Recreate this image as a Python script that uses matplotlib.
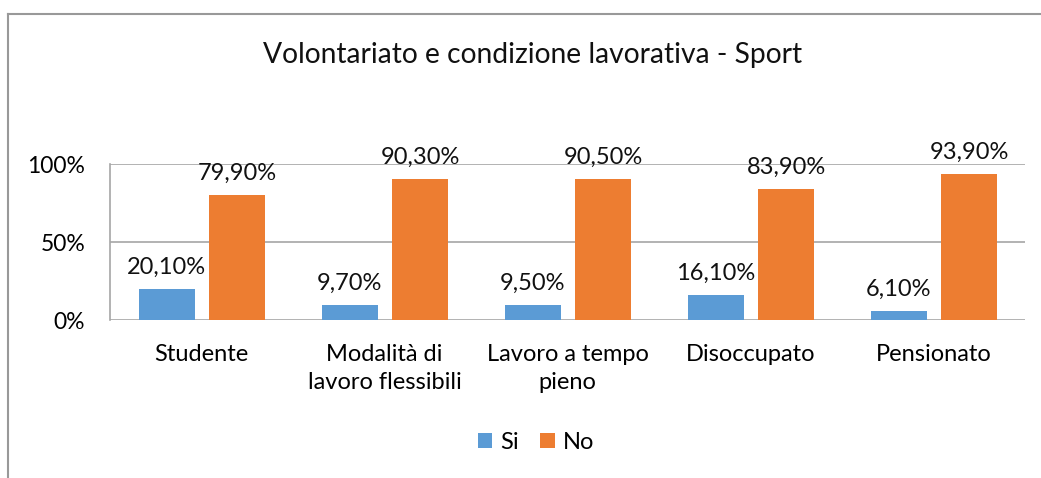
import matplotlib.pyplot as plt
from matplotlib.lines import Line2D
import numpy as np

categories = ["Studente", "Modalità di\nlavoro flessibili", "Lavoro a tempo\npieno",
              "Disoccupato", "Pensionato"]
si_values = [20.1, 9.7, 9.5, 16.1, 6.1]
no_values = [79.9, 90.3, 90.5, 83.9, 93.9]
yticks = [0, 50, 100]
ytick_labels = ["0%", "50%", "100%"]

plt.rcParams['font.family'] = ['Lato', 'DejaVu Sans']

fig = plt.figure(figsize=(10.41, 4.78), dpi=100)
ax = fig.add_axes([0.1057, 0.3305, 0.8789, 0.3264])

x = np.arange(len(categories))
w = 0.306
b1 = ax.bar(x - 0.19, si_values, w, color="#5B9BD5", label="Si")
b2 = ax.bar(x + 0.195, no_values, w, color="#ED7D31", label="No")

for bars, vals in ((b1, si_values), (b2, no_values)):
    for r, v in zip(bars, vals):
        ax.annotate(f"{v:.2f}%".replace(".", ","), (r.get_x() + r.get_width() / 2, v),
                    xytext=(0, 8), textcoords="offset points", ha="center", va="bottom",
                    fontsize=17, color="#111111")

ax.set_xlim(-0.5, len(categories) - 0.5)
ax.set_ylim(0, 100)
ax.set_yticks(yticks)
ax.set_yticklabels(ytick_labels, fontsize=16.5)
ax.set_xticks(x)
ax.set_xticklabels(categories, fontsize=17, linespacing=1.45)
ax.tick_params(length=0)
ax.tick_params(axis="x", pad=17)
ax.tick_params(axis="y", pad=18)
ax.yaxis.grid(True, color="#a6a6a6", linewidth=1.2)
ax.set_axisbelow(True)
for s in ("top", "right", "bottom"):
    ax.spines[s].set_visible(False)
ax.spines["left"].set_color("#a6a6a6")
ax.spines["left"].set_linewidth(1.2)

fig.text(0.512, 0.885, "Volontariato e condizione lavorativa - Sport", ha="center", va="center",
         fontsize=20.3, color="#111111")

fig.legend(handles=[b1, b2], loc="center", bbox_to_anchor=(0.515, 0.074), ncol=2, frameon=False,
           fontsize=17, handlelength=0.6, handleheight=0.6, handletextpad=0.35, columnspacing=0.9)

# outer chart border (top and left edges visible)
fig.add_artist(Line2D([8 / 1041, 1], [1 - 14 / 478] * 2, color="#999999", linewidth=1.5))
fig.add_artist(Line2D([8 / 1041] * 2, [0, 1 - 14 / 478], color="#999999", linewidth=1.5))

fig.savefig("out.png", dpi=100)
